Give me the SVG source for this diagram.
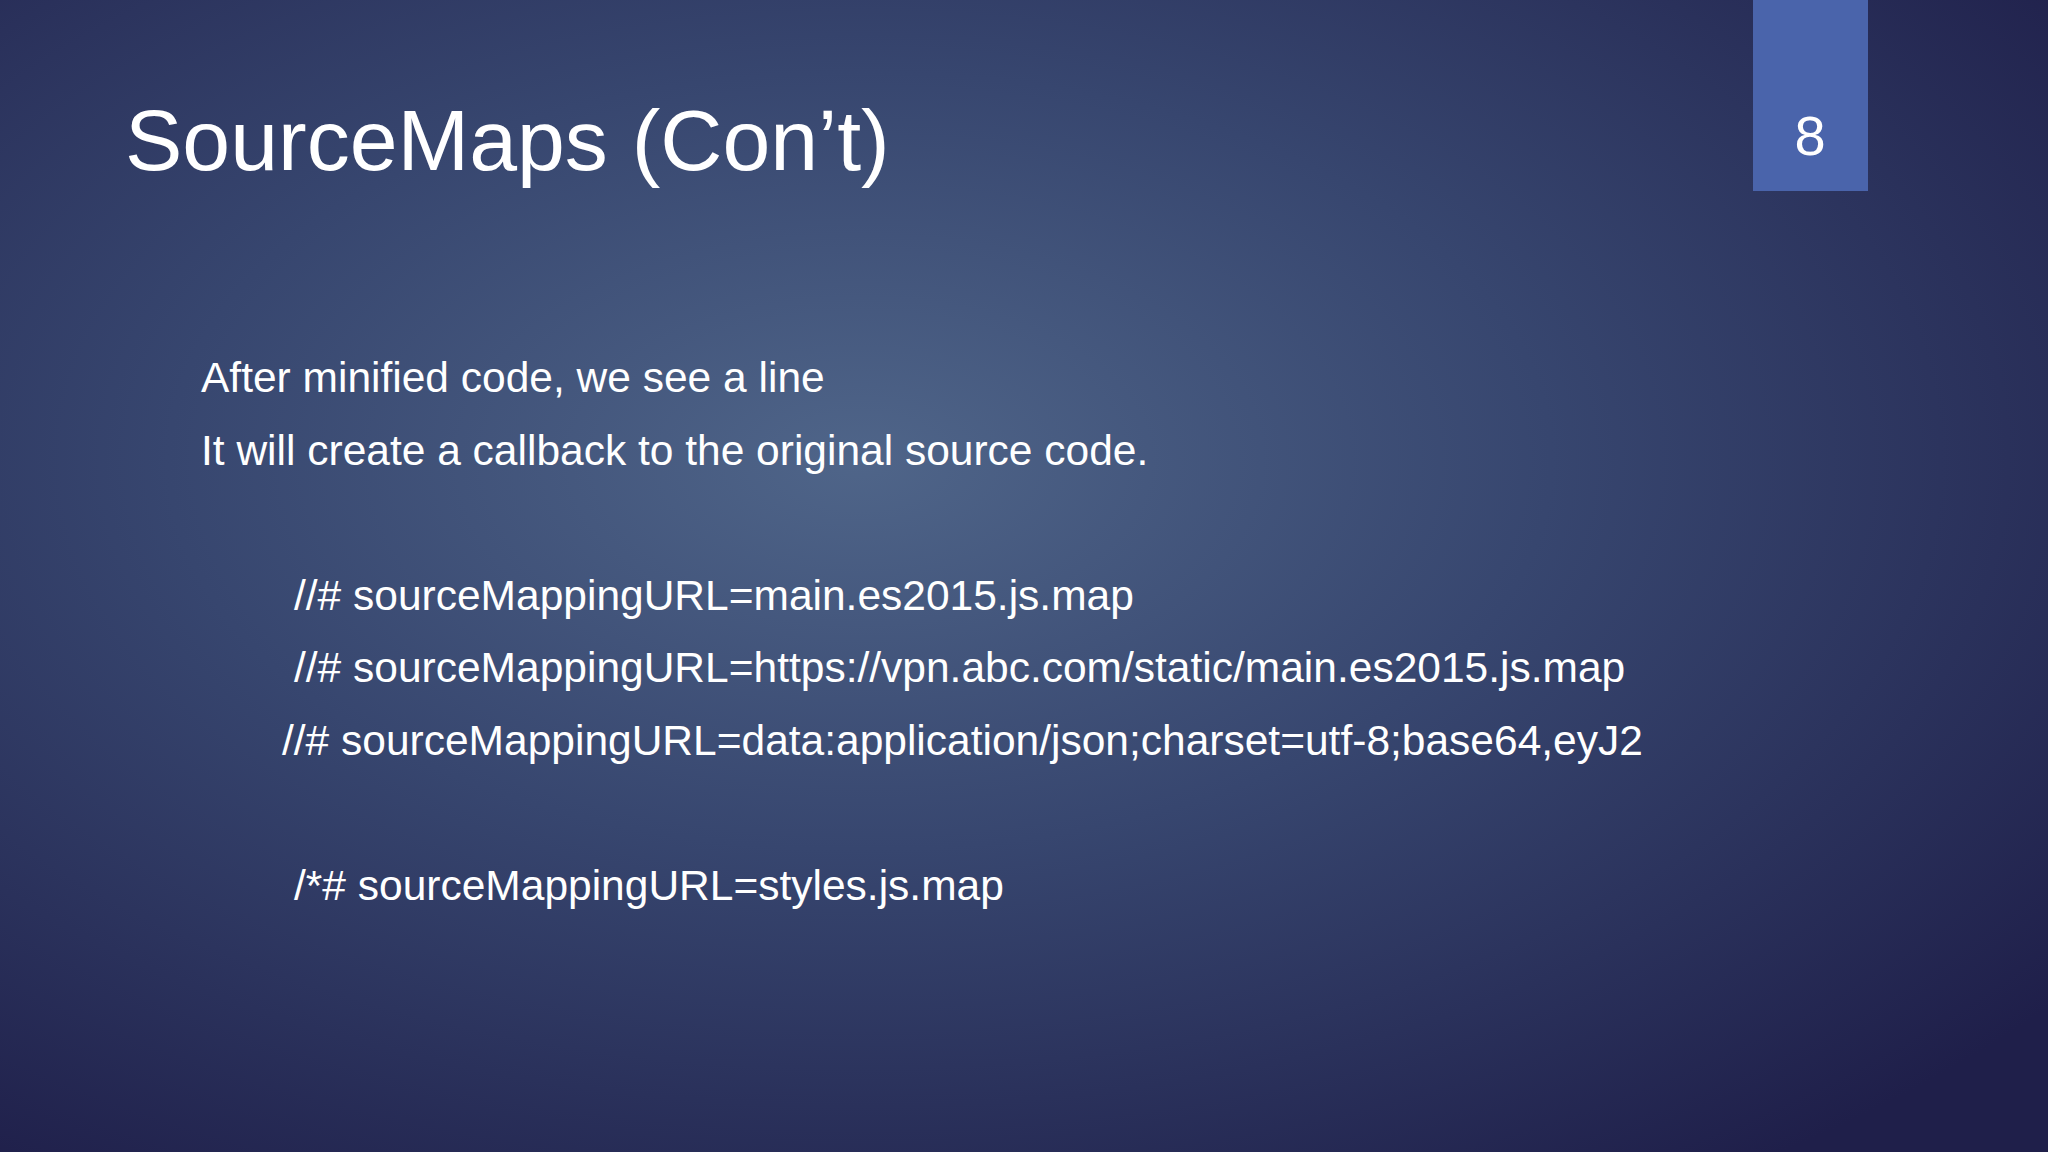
<svg xmlns="http://www.w3.org/2000/svg" width="2048" height="1152" viewBox="0 0 2048 1152">
<defs>
<radialGradient id="bg" cx="0.42" cy="0.4" r="0.75">
<stop offset="0" stop-color="#4f6589"/>
<stop offset="0.45" stop-color="#37466f"/>
<stop offset="1" stop-color="#1f1f4a"/>
</radialGradient>
<style>
.t{font-family:"Liberation Sans","Open Sans",sans-serif;fill:#ffffff}
.b{font-size:42.5px}
</style>
</defs>
<rect width="2048" height="1152" fill="url(#bg)"/>
<g id="title"><text class="t" x="125" y="170" font-size="86">SourceMaps (Con’t)</text></g>
<g id="pagenum">
<rect x="1753" y="0" width="115" height="191" fill="#4a64ab"/>
<text class="t" x="1810" y="155" font-size="56" text-anchor="middle">8</text>
</g>
<g id="body">
<text class="t b" x="201" y="392">After minified code, we see a line</text>
<text class="t b" x="201" y="465">It will create a callback to the original source code.</text>
<text class="t b" x="294" y="610">//# sourceMappingURL=main.es2015.js.map</text>
<text class="t b" x="294" y="682">//# sourceMappingURL=https://vpn.abc.com/static/main.es2015.js.map</text>
<text class="t b" x="282" y="755">//# sourceMappingURL=data:application/json;charset=utf-8;base64,eyJ2</text>
<text class="t b" x="294" y="900">/*# sourceMappingURL=styles.js.map</text>
</g>
</svg>
